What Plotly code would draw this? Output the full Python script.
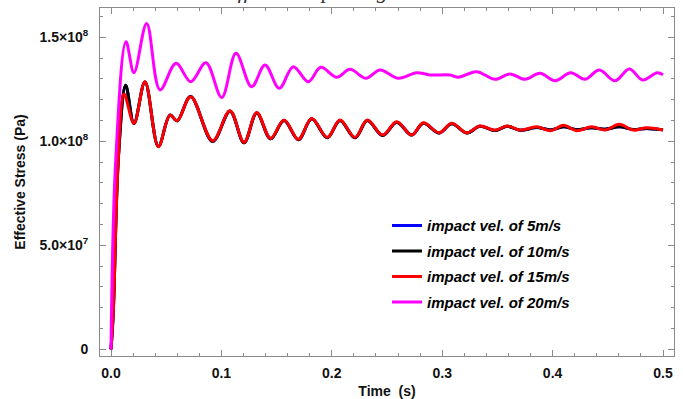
import plotly.graph_objects as go

# ---- data ----
t_20 = [0, 0.0043, 0.0136, 0.0208, 0.0323, 0.0444, 0.0589, 0.0722, 0.086, 0.1003,
        0.1132, 0.1274, 0.1395, 0.1524, 0.1651, 0.1787, 0.19, 0.2044, 0.2165, 0.231,
        0.2437, 0.2603, 0.2769, 0.289, 0.307, 0.3146, 0.3312, 0.3478, 0.3614, 0.375,
        0.3886, 0.4022, 0.4164, 0.4293, 0.4423, 0.4565, 0.4695, 0.4816, 0.4948, 0.5]
v_20 = [0, 0.91, 1.479, 1.33, 1.567, 1.247, 1.375, 1.287, 1.378, 1.211,
        1.423, 1.262, 1.367, 1.255, 1.359, 1.287, 1.356, 1.308, 1.346, 1.303,
        1.343, 1.303, 1.33, 1.319, 1.319, 1.308, 1.335, 1.298, 1.324, 1.298,
        1.327, 1.291, 1.33, 1.298, 1.343, 1.291, 1.348, 1.295, 1.33, 1.32]

t_15 = [0, 0.002, 0.0066, 0.0118, 0.0208, 0.0308, 0.0429, 0.0534, 0.06, 0.0721,
        0.0921, 0.1078, 0.1205, 0.132, 0.1446, 0.1567, 0.1697, 0.1818, 0.1959, 0.2074,
        0.221, 0.2322, 0.2461, 0.2588, 0.2724, 0.2829, 0.2974, 0.3086, 0.3222, 0.3342,
        0.3478, 0.359, 0.3705, 0.3856, 0.3983, 0.4097, 0.4218, 0.4354, 0.4475, 0.4604,
        0.4731, 0.4852, 0.5]
v_15 = [0, 0.17, 0.91, 1.227, 1.087, 1.287, 0.974, 1.126, 1.099, 1.214,
        1.003, 1.147, 0.995, 1.138, 1.014, 1.102, 1.01, 1.11, 1.019, 1.102,
        1.019, 1.102, 1.03, 1.094, 1.03, 1.089, 1.041, 1.087, 1.041, 1.074,
        1.054, 1.074, 1.054, 1.07, 1.051, 1.077, 1.051, 1.07, 1.054, 1.082,
        1.054, 1.065, 1.054]

t_10 = [0, 0.002, 0.0068, 0.0133, 0.0208, 0.0308, 0.0429, 0.0534, 0.06, 0.0721,
        0.0921, 0.1078, 0.1205, 0.132, 0.1446, 0.1567, 0.1697, 0.1818, 0.1959, 0.2074,
        0.221, 0.2322, 0.2461, 0.2588, 0.2724, 0.2829, 0.2974, 0.3086, 0.3222, 0.3342,
        0.3478, 0.359, 0.3705, 0.3856, 0.3983, 0.4097, 0.4218, 0.4354, 0.4475, 0.4604,
        0.4731, 0.4852, 0.5]
v_10 = [0, 0.17, 0.93, 1.27, 1.085, 1.285, 0.975, 1.126, 1.099, 1.215,
        1.0, 1.145, 0.993, 1.136, 1.012, 1.1, 1.008, 1.108, 1.017, 1.1,
        1.017, 1.1, 1.028, 1.092, 1.03, 1.087, 1.04, 1.085, 1.04, 1.072,
        1.052, 1.072, 1.053, 1.066, 1.055, 1.07, 1.056, 1.065, 1.058, 1.07,
        1.057, 1.062, 1.055]

t_5 = list(t_10)
v_5 = list(v_10)

SCALE = 1e8
series = [
    ("impact vel. of 5m/s", t_5, v_5, "#0000FF"),
    ("impact vel. of 10m/s", t_10, v_10, "#000000"),
    ("impact vel. of 15m/s", t_15, v_15, "#FF0000"),
    ("impact vel. of 20m/s", t_20, v_20, "#FF00FF"),
]

y_tickvals = [0, 5e7, 1e8, 1.5e8]
y_ticktext = ["0", "5.0×10<sup>7</sup>", "1.0×10<sup>8</sup>", "1.5×10<sup>8</sup>"]
x_tickvals = [0, 0.1, 0.2, 0.3, 0.4, 0.5]
x_ticktext = ["0.0", "0.1", "0.2", "0.3", "0.4", "0.5"]

fig = go.Figure()
for i, (name, t, v, col) in enumerate(series):
    fig.add_trace(go.Scatter(
        x=t, y=[val * SCALE for val in v], mode="lines", name=name,
        legendgroup=f"g{i}",
        line=dict(color=col, width=3, shape="spline", smoothing=1.0),
    ))

frame = "#8a8a8a"
tickfont = dict(family="Arial", size=14, color="#111", weight="bold")

fig.update_layout(
    width=683, height=399,
    margin=dict(l=100, r=9, t=8, b=43, autoexpand=False),
    paper_bgcolor="white", plot_bgcolor="white",
    showlegend=True,
    legend=dict(
        x=0.5, y=0.422, xanchor="left", yanchor="top",
        bgcolor="rgba(0,0,0,0)", borderwidth=0,
        font=dict(family="Arial", size=15, color="#000", weight="bold", style="italic"),
        tracegroupgap=3, itemwidth=30,
    ),
    xaxis=dict(
        range=[-0.00996, 0.50996], showgrid=False, zeroline=False, automargin=False,
        showline=True, linecolor=frame, linewidth=1, mirror="ticks",
        ticks="inside", ticklen=6, tickcolor=frame, tickwidth=1,
        tickvals=x_tickvals, ticktext=x_ticktext, tickfont=tickfont,
        ticklabelstandoff=4,
        minor=dict(ticks="inside", ticklen=3, dtick=0.02, tick0=0, tickcolor=frame, showgrid=False),
        title=dict(text="Time  (s)", font=dict(family="Arial", size=14, color="#111", weight="bold"), standoff=6),
    ),
    yaxis=dict(
        range=[-3.22e6, 1.641e8], showgrid=False, zeroline=False, automargin=False,
        showline=True, linecolor=frame, linewidth=1, mirror="ticks",
        ticks="inside", ticklen=6, tickcolor=frame, tickwidth=1,
        tickvals=y_tickvals, ticktext=y_ticktext, tickfont=tickfont,
        ticklabelstandoff=8,
        minor=dict(ticks="inside", ticklen=3, dtick=1e7, tick0=0, tickcolor=frame, showgrid=False),
        title=dict(text="Effective Stress (Pa)", font=dict(family="Arial", size=14, color="#111", weight="bold"), standoff=10),
    ),
    annotations=[dict(
        text="at different impacting velocities", xref="paper", yref="paper",
        x=0.413, y=1.0, xanchor="center", yanchor="bottom", yshift=3, showarrow=False,
        font=dict(family="Liberation Serif", size=22, color="#333", style="italic"),
    )],
)

fig.write_html("out.html")
